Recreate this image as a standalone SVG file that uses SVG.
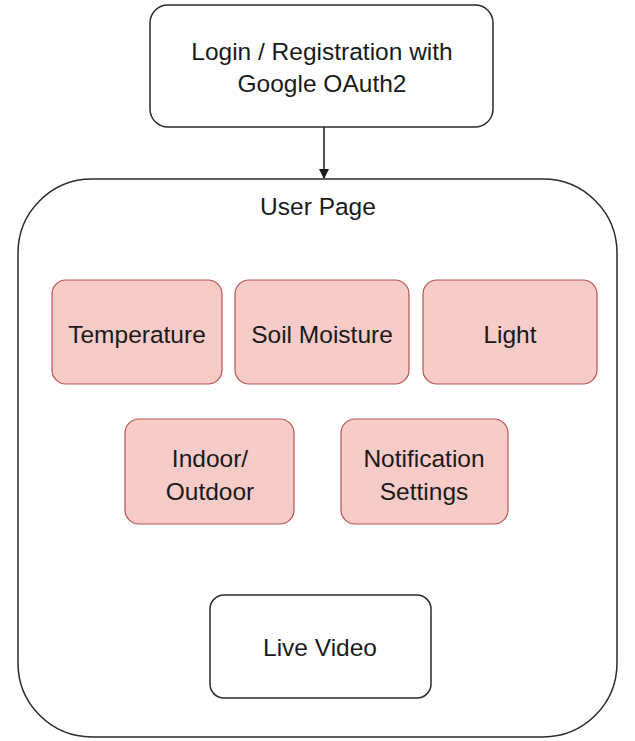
<svg xmlns="http://www.w3.org/2000/svg" width="635" height="741" viewBox="0 0 635 741">
<style>
  .box { fill: #ffffff; stroke: #2b2b2b; stroke-width: 1.5; }
  .pink { fill: #f6cbc8; stroke: #b85450; stroke-width: 1.2; }
  .lbl { font-family: "Liberation Sans", Arial, sans-serif; font-size: 24.5px; fill: #1a1a1a; text-anchor: middle; }
  .edge { stroke: #1a1a1a; stroke-width: 1.5; fill: none; }
</style>
<defs>
  <marker id="arr" markerWidth="10" markerHeight="12" refX="9" refY="5" orient="auto" markerUnits="userSpaceOnUse">
    <path d="M0,0 L10,5 L0,10 Z" fill="#1a1a1a"/>
  </marker>
</defs>
<rect width="635" height="741" fill="#ffffff"/>
<g id="user-page">
  <rect class="box" x="18" y="179" width="599" height="558" rx="74" ry="74"/>
  <text class="lbl" x="318" y="215">User Page</text>
</g>
<g id="login">
  <rect class="box" x="150" y="5" width="343" height="122" rx="18" ry="18"/>
  <text class="lbl" x="322" y="60">Login / Registration with</text>
  <text class="lbl" x="322" y="92">Google OAuth2</text>
</g>
<g id="connectors">
  <line class="edge" x1="324" y1="127" x2="324" y2="178" marker-end="url(#arr)"/>
</g>
<g id="temperature">
  <rect class="pink" x="52" y="280" width="170" height="104" rx="14" ry="14"/>
  <text class="lbl" x="137" y="343">Temperature</text>
</g>
<g id="soil-moisture">
  <rect class="pink" x="235" y="280" width="174" height="104" rx="14" ry="14"/>
  <text class="lbl" x="322" y="343">Soil Moisture</text>
</g>
<g id="light">
  <rect class="pink" x="423" y="280" width="174" height="104" rx="14" ry="14"/>
  <text class="lbl" x="510" y="343">Light</text>
</g>
<g id="indoor-outdoor">
  <rect class="pink" x="125" y="419" width="169" height="105" rx="14" ry="14"/>
  <text class="lbl" x="210" y="467">Indoor/</text>
  <text class="lbl" x="210" y="500">Outdoor</text>
</g>
<g id="notification-settings">
  <rect class="pink" x="341" y="419" width="167" height="105" rx="14" ry="14"/>
  <text class="lbl" x="424" y="467">Notification</text>
  <text class="lbl" x="424" y="500">Settings</text>
</g>
<g id="live-video">
  <rect class="box" x="210" y="595" width="221" height="103" rx="14" ry="14"/>
  <text class="lbl" x="320" y="656">Live Video</text>
</g>
</svg>
